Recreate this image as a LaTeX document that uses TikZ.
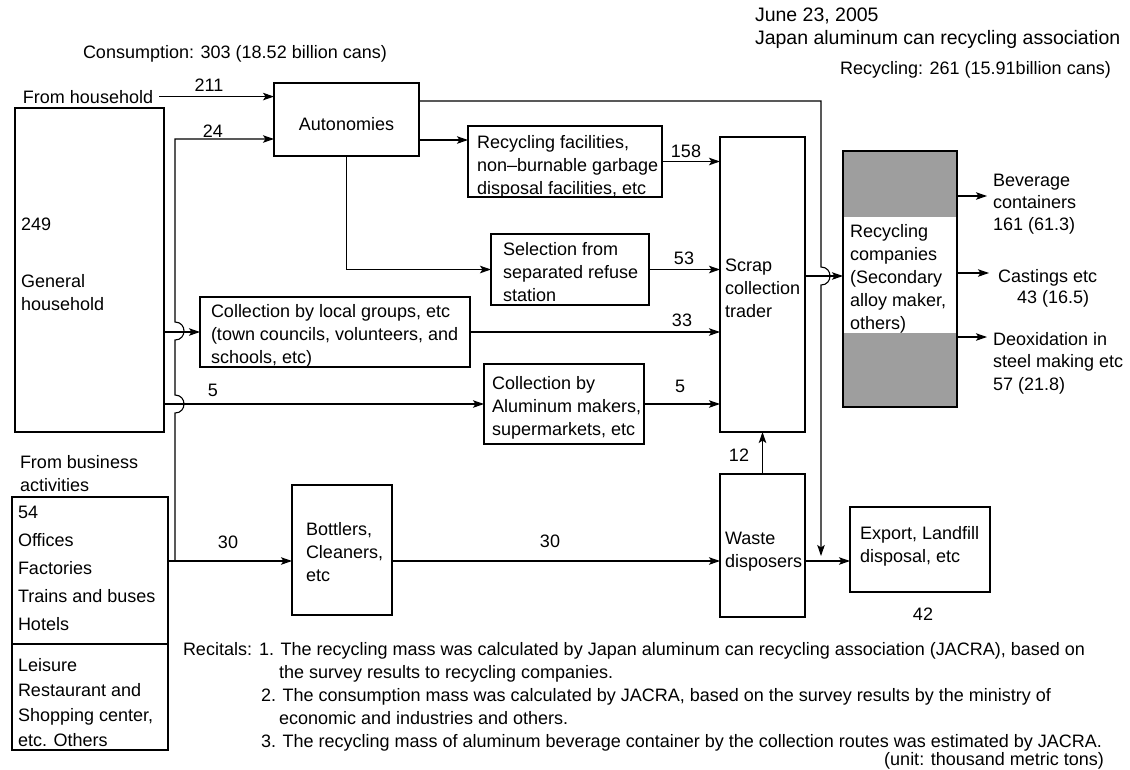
\documentclass[tikz,border=0pt]{standalone}
\usepackage{fontspec}
\setmainfont{Liberation Sans}
\usetikzlibrary{arrows.meta}
\definecolor{shade}{gray}{0.62}
\begin{document}
\begin{tikzpicture}[x=1pt,y=-1pt,
  every node/.style={inner sep=0pt, outer sep=0pt, font=\fontsize{18}{23}\selectfont},
  box/.style={draw, line width=1.1pt, anchor=north west},
  t/.style={anchor=base west, align=left},
  lab/.style={anchor=base},
  arr/.style={line width=1.1pt, -{Stealth[length=11pt,width=7.5pt,inset=2.5pt]}},
  ln/.style={line width=1.1pt}]
\useasboundingbox (0,0) rectangle (1130,769);

% header
\node[t, font=\fontsize{19.5}{23}\selectfont] (date) at (755,21) {June 23, 2005};
\node[t, font=\fontsize{19.5}{23}\selectfont] (assoc) at (755,44) {Japan aluminum can recycling association};
\node[t] (recy) at (840,74) {Recycling: 261 (15.91billion cans)};
\node[t] (cons) at (83,58) {Consumption: 303 (18.52 billion cans)};
\node[t] (fh) at (23,103) {From household};

% boxes
\node[box, minimum width=149pt, minimum height=324pt] (gh) at (15,108) {};
\node[box, minimum width=156pt, minimum height=253pt] (bus) at (12,497) {};
\node[box, minimum width=145pt, minimum height=73pt] (auto) at (274,83) {};
\node[box, minimum width=194pt, minimum height=71pt] (recf) at (468,126) {};
\node[box, minimum width=158pt, minimum height=71pt] (sel) at (491,234) {};
\node[box, minimum width=270pt, minimum height=70pt] (loc) at (200,297) {};
\node[box, minimum width=160pt, minimum height=80pt] (alu) at (484,364) {};
\node[box, minimum width=85pt, minimum height=295pt] (scrap) at (720,137) {};
\node[box, minimum width=85pt, minimum height=143pt] (waste) at (720,474) {};
\node[box, minimum width=100pt, minimum height=130pt] (bott) at (292,485) {};
\node[box, minimum width=140pt, minimum height=85pt] (exp) at (850,507) {};
\node[box, minimum width=114pt, minimum height=256pt, fill=shade] (rec) at (843,151) {};
\fill[white] ([xshift=0.6pt]rec.west |- 0,217) rectangle ([xshift=-0.6pt]rec.east |- 0,333);
\draw[ln] (bus.west |- 0,644) -- (bus.east |- 0,644);

% box texts (multi-line nodes are placed by the baseline of their last line)
\node[lab] (autot) at (346.5,130) {Autonomies};
\node[t] (recft) at (477,194) {Recycling facilities,\\non–burnable garbage\\disposal facilities, etc};
\node[t] (selt) at (503,301) {Selection from\\separated refuse\\station};
\node[t] (loct) at (211,363) {Collection by local groups, etc\\(town councils, volunteers, and\\schools, etc)};
\node[t] (alut) at (492,435) {Collection by\\Aluminum makers,\\supermarkets, etc};
\node[t] (scrapt) at (725,317) {Scrap\\collection\\trader};
\node[t] (wastet) at (725,567) {Waste\\disposers};
\node[t] (bottt) at (306,581) {Bottlers,\\Cleaners,\\etc};
\node[t] (expt) at (860,562) {Export, Landfill\\disposal, etc};
\node[t] (rect) at (850,329) {Recycling\\companies\\(Secondary\\alloy maker,\\others)};
\node[t] (ght) at (21,230) {249};
\node[t] (ght2) at (21,310) {General\\household};
\node[t] (fb) at (20,491) {From business\\activities};
\node[t, font=\fontsize{18}{28.2}\selectfont] (bust1) at (18,630.8) {54\\Offices\\Factories\\Trains and buses\\Hotels};
\node[t, font=\fontsize{18}{25}\selectfont] (bust2) at (18,746) {Leisure\\Restaurant and\\Shopping center,\\etc. Others};
\node[t, font=\fontsize{18}{22}\selectfont] (bev) at (993,230) {Beverage\\containers\\161 (61.3)};
\node[t] (cast) at (998,282) {Castings etc};
\node[t] (cast2) at (1017,303) {43 (16.5)};
\node[t, font=\fontsize{18}{22.5}\selectfont] (deox) at (993,390) {Deoxidation in\\steel making etc\\57 (21.8)};

% flow labels
\node[lab] (l211) at (209,91) {211};
\node[lab] (l24) at (213,137) {24};
\node[lab] (l158) at (686,157) {158};
\node[lab] (l53) at (684,264) {53};
\node[lab] (l33) at (682,326) {33};
\node[lab] (l5r) at (680,392) {5};
\node[lab] (l5l) at (213,396) {5};
\node[lab] (l12) at (739,461) {12};
\node[lab] (l30a) at (228,548) {30};
\node[lab] (l30b) at (550,547) {30};
\node[lab] (l42) at (923,620) {42};

% notes
\node[t] (rcl) at (183,655) {Recitals:};
\node[t] (n1) at (259,655) {1. The recycling mass was calculated by Japan aluminum can recycling association (JACRA), based on};
\node[t] (n1b) at (279,678) {the survey results to recycling companies.};
\node[t] (n2) at (261,701) {2. The consumption mass was calculated by JACRA, based on the survey results by the ministry of};
\node[t] (n2b) at (279,724) {economic and industries and others.};
\node[t] (n3) at (261,747) {3. The recycling mass of aluminum beverage container by the collection routes was estimated by JACRA.};
\node[anchor=base east] (unit) at (1104,765) {(unit: thousand metric tons)};

% connectors
\coordinate (j) at (175,561);
\coordinate (kend) at (821,556);
\coordinate (bevp) at (987,196);
\coordinate (castp) at (989,273);
\coordinate (deoxp) at (987,337);

\draw[arr] ([xshift=6pt]fh.east) -- (fh.east -| auto.west);
\draw[arr] (j) -- (175,413) .. controls (187,413) and (187,395) .. (175,395) -- (175,340) .. controls (187,340) and (187,322) .. (175,322) -- (175,139) -- (auto.west |- 0,139);
\draw[arr] (bus.east |- j) -- (bott.west |- j);
\draw[arr] (gh.east |- loc.west) -- (loc.west);
\draw[arr] (gh.east |- alu.west) -- (alu.west);
\draw[arr] (auto.east |- 0,140) -- (recf.west |- 0,140);
\draw[arr] (auto.south) |- (sel.west);
\draw[arr] (recf.east) -- (recf.east -| scrap.west);
\draw[arr] (sel.east) -- (sel.east -| scrap.west);
\draw[arr] (loc.east) -- (loc.east -| scrap.west);
\draw[arr] (alu.east) -- (alu.east -| scrap.west);
\draw[arr] (bott.east |- j) -- (waste.west |- j);
\draw[arr] (waste.north) -- (scrap.south);
\draw[arr] (waste.east |- j) -- (exp.west |- j);
\draw[arr] (scrap.east |- 0,276) -- (rec.west |- 0,276);
\draw[arr] (auto.east |- 0,101) -- (821,101) -- (821,267) .. controls (833,267) and (833,285) .. (821,285) -- (kend);
\draw[arr] (rec.east |- bevp) -- (bevp);
\draw[arr] (rec.east |- castp) -- (castp);
\draw[arr] (rec.east |- deoxp) -- (deoxp);
\end{tikzpicture}
\end{document}
